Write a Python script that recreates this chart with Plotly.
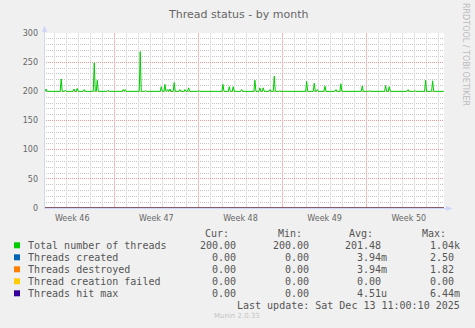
import plotly.graph_objects as go
from datetime import datetime, timedelta

# ---------------- data ----------------
title = "Thread status - by month"
series_names = ["Total number of threads", "Threads created", "Threads destroyed",
                "Thread creation failed", "Threads hit max"]
series_colors = ["#00CC00", "#0066B3", "#FF8000", "#FFCC00", "#330099"]

x_start = "2025-11-10 03:40"
x_end = "2025-12-13 10:25"
data_start = "2025-11-10 04:00"
data_end = "2025-12-13 10:00"

total_baseline = 200
spike_times = [
    "2025-11-10 08:00", "2025-11-11 14:00", "2025-11-11 22:00", "2025-11-12 15:30",
    "2025-11-12 22:00", "2025-11-13 12:00", "2025-11-14 08:00", "2025-11-14 14:00",
    "2025-11-15 12:00", "2025-11-16 17:50", "2025-11-16 21:50", "2025-11-17 20:40",
    "2025-11-18 03:50", "2025-11-18 14:30", "2025-11-18 21:50", "2025-11-19 21:50",
    "2025-11-20 05:10", "2025-11-20 10:40", "2025-11-20 15:10", "2025-11-20 23:40",
    "2025-11-21 11:00", "2025-11-21 21:10", "2025-11-22 04:30", "2025-11-23 01:00",
    "2025-11-25 01:00", "2025-11-25 13:40", "2025-11-25 21:30", "2025-11-26 14:20",
    "2025-11-27 16:50", "2025-11-28 02:50", "2025-11-28 09:30", "2025-11-28 22:50",
    "2025-11-29 07:30", "2025-11-29 18:50", "2025-12-02 00:10", "2025-12-02 15:20",
    "2025-12-02 21:20", "2025-12-03 12:40", "2025-12-03 22:40", "2025-12-04 10:40",
    "2025-12-04 20:30", "2025-12-06 15:10", "2025-12-07 06:30", "2025-12-08 13:50",
    "2025-12-08 21:00", "2025-12-10 10:50", "2025-12-10 23:50", "2025-12-11 21:40",
    "2025-12-12 11:40",
]
spike_values = [
    204, 221, 202, 204,
    205, 203, 249, 219,
    202, 203, 203, 201,
    268, 201, 201, 208,
    212, 203, 204, 215,
    203, 203, 206, 201,
    212, 208, 208, 203,
    219, 206, 206, 203,
    226, 201, 217, 214,
    203, 209, 201, 203,
    213, 209, 201, 210,
    208, 203, 201, 219,
    218,
]
zero_value = 0

week_label_times = ["2025-11-12 12:00", "2025-11-19 12:00", "2025-11-26 12:00",
                    "2025-12-03 12:00", "2025-12-10 12:00"]
week_labels = ["Week 46", "Week 47", "Week 48", "Week 49", "Week 50"]
y_ticks = [0, 50, 100, 150, 200, 250, 300]
day_grid_times = ["2025-11-%02d" % d for d in range(11, 31)] + \
                 ["2025-12-%02d" % d for d in range(1, 14)]
week_grid_times = ["2025-11-16", "2025-11-23", "2025-11-30", "2025-12-07"]

cur_vals = ["200.00", "0.00", "0.00", "0.00", "0.00"]
min_vals = ["200.00", "0.00", "0.00", "0.00", "0.00"]
avg_vals = ["201.48", "3.94m", "3.94m", "0.00", "4.51u"]
max_vals = ["1.04k", "2.50", "1.82", "0.00", "6.44m"]
headers = ["Cur:", "Min:", "Avg:", "Max:"]
last_update = "Last update: Sat Dec 13 11:00:10 2025"
munin_version = "Munin 2.0.33"
watermark = "RRDTOOL / TOBI OETIKER"

# ---------------- build series ----------------
fmt = "%Y-%m-%d %H:%M"
step = timedelta(hours=2)
tx = [data_start]
ty = [total_baseline]
for t, v in zip(spike_times, spike_values):
    dt = datetime.strptime(t, fmt)
    tx += [(dt - step).strftime(fmt), t, (dt + step).strftime(fmt)]
    ty += [total_baseline, v, total_baseline]
tx.append(data_end)
ty.append(total_baseline)

# ---------------- layout geometry ----------------
FW, FH = 475, 328
L, T, W, H = 44, 33, 400, 176
B = T + H  # 209


def px(xp):
    return (xp - L) / W


def py(yp):
    return (B - yp) / H


fig = go.Figure()
zero_axes = ["x2", "x3", "x3", "x3"]
for (name, color), ax in zip(list(zip(series_names, series_colors))[1:], zero_axes):
    fig.add_trace(go.Scatter(x=[data_start, data_end], y=[zero_value, zero_value],
                             mode="lines", line=dict(color=color, width=1),
                             name=name, xaxis=ax, hoverinfo="skip"))
fig.add_trace(go.Scatter(x=tx, y=ty, mode="lines",
                         line=dict(color=series_colors[0], width=1),
                         name=series_names[0], xaxis="x"))

GRID = "#C4C4C4"
MGRID = "#EE9999"
FONT = "#666666"
AXIS = "#CFD6F8"
DASH = "1px,1px"

common_x = dict(type="date", range=[x_start, x_end], showline=False, zeroline=False,
                ticks="")

fig.update_layout(
    width=FW, height=FH,
    margin=dict(l=L, r=FW - L - W, t=T, b=FH - T - H, pad=0),
    paper_bgcolor="#F0F0F0", plot_bgcolor="#FFFFFF",
    showlegend=False,
    font=dict(family="DejaVu Sans", size=8, color=FONT),
    xaxis=dict(**common_x, showticklabels=False,
               tickmode="array", tickvals=day_grid_times,
               showgrid=True, gridcolor="#E2E2E2", gridwidth=1),
    xaxis2=dict(**common_x, overlaying="x", anchor="y", side="bottom",
                showticklabels=False, tickmode="array", tickvals=week_grid_times,
                showgrid=True, gridcolor="#F6BDBD", gridwidth=1),
    xaxis3=dict(**common_x, overlaying="x", anchor="y", side="bottom",
                tickmode="array", tickvals=week_label_times, ticktext=week_labels,
                showgrid=False,
                tickfont=dict(family="DejaVu Sans", size=8, color=FONT),
                ticklabelstandoff=3),
    yaxis=dict(
        range=[-1.0 * 300 / 175, 300], tickmode="array", tickvals=y_ticks,
        showgrid=True, gridcolor=MGRID, griddash=DASH,
        minor=dict(dtick=10, tick0=0, showgrid=True, gridcolor=GRID, griddash=DASH),
        zeroline=False, showline=False, ticks="",
        tickfont=dict(family="DejaVu Sans", size=8, color=FONT),
        ticklabelstandoff=5,
    ),
)

shapes = []
shapes.append(dict(type="line", xref="paper", yref="paper",
                   x0=px(44.5), x1=px(44.5), y0=py(209), y1=py(31),
                   line=dict(color=AXIS, width=1), layer="above"))
shapes.append(dict(type="line", xref="paper", yref="paper",
                   x0=px(44), x1=px(447), y0=py(208.5), y1=py(208.5),
                   line=dict(color=AXIS, width=1), layer="above"))
shapes.append(dict(type="path", xref="paper", yref="paper",
                   path=f"M {px(44.5)} {py(25.5)} L {px(42)} {py(32)} L {px(47)} {py(32)} Z",
                   fillcolor=AXIS, line=dict(width=0), layer="above"))
shapes.append(dict(type="path", xref="paper", yref="paper",
                   path=f"M {px(452.5)} {py(208.5)} L {px(446)} {py(206)} L {px(446)} {py(211)} Z",
                   fillcolor=AXIS, line=dict(width=0), layer="above"))

annotations = []
annotations.append(dict(text=title, xref="paper", yref="paper", x=px(237.5), y=py(14),
                        xanchor="center", yanchor="middle", showarrow=False,
                        font=dict(family="DejaVu Sans", size=11, color=FONT)))
annotations.append(dict(text=watermark, xref="paper", yref="paper", x=px(465), y=py(54),
                        xanchor="center", yanchor="middle", showarrow=False, textangle=90,
                        font=dict(family="DejaVu Sans", size=8, color="#BBBBBB")))

MONO = "DejaVu Sans Mono"
LFONT = dict(family=MONO, size=10, color="#555555")
row_y0 = 245.5
row_dy = 12
header_y = 233.5
header_right = [230.5, 303.5, 374.5, 448]
col_base = [237.5, 310.5, 382.5, 455.5]
suffix_w = 6.0

for hx, htxt in zip(header_right, headers):
    annotations.append(dict(text=htxt, xref="paper", yref="paper", x=px(hx), y=py(header_y),
                            xanchor="right", yanchor="middle", showarrow=False, font=LFONT))

columns = [cur_vals, min_vals, avg_vals, max_vals]
for i, (name, color) in enumerate(zip(series_names, series_colors)):
    yy = row_y0 + i * row_dy
    shapes.append(dict(type="rect", xref="paper", yref="paper",
                       x0=px(14), x1=px(20), y0=py(yy - 3.2), y1=py(yy + 2.8),
                       fillcolor=color, line=dict(width=0), layer="above"))
    annotations.append(dict(text=name, xref="paper", yref="paper", x=px(26), y=py(yy),
                            xanchor="left", yanchor="middle", showarrow=False, font=LFONT))
    for c, vals in enumerate(columns):
        v = vals[i]
        xr = col_base[c] + (suffix_w if v[-1].isalpha() else 0)
        annotations.append(dict(text=v, xref="paper", yref="paper", x=px(xr), y=py(yy),
                                xanchor="right", yanchor="middle", showarrow=False, font=LFONT))

annotations.append(dict(text=last_update, xref="paper", yref="paper", x=px(461.5), y=py(305.5),
                        xanchor="right", yanchor="middle", showarrow=False, font=LFONT))
annotations.append(dict(text=munin_version, xref="paper", yref="paper", x=px(236.5), y=py(316),
                        xanchor="center", yanchor="middle", showarrow=False,
                        font=dict(family="DejaVu Sans", size=7, color="#C4C4C4")))

fig.update_layout(shapes=shapes, annotations=annotations)
fig.write_html("out.html")
